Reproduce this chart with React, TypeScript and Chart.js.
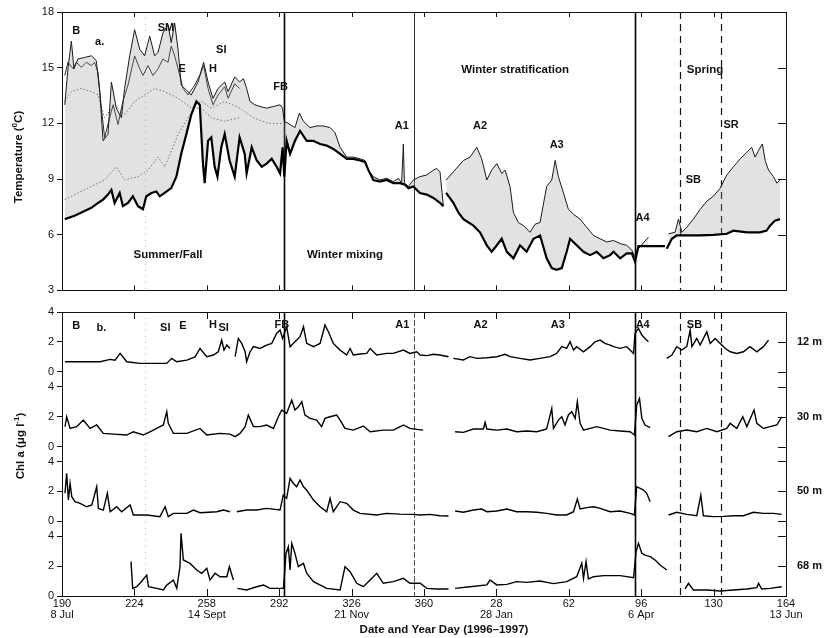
import React, { useEffect, useRef } from "react";
import { Chart, registerables } from "chart.js";

Chart.register(...registerables);

type P = [number, number | null];

// ---------- axes / categories ----------
const X_TICK_DAYS = [190, 224, 258, 292, 326, 360, 394, 428, 462, 496, 530];
const X_TICK_YEARDAY = ["190", "224", "258", "292", "326", "360", "28", "62", "96", "130", "164"];
const X_TICK_DATES = ["8 Jul", "", "14 Sept", "", "21 Nov", "", "28 Jan", "", "6 Apr", "", "13 Jun"];
const TEMP_TICKS = [3, 6, 9, 12, 15, 18];
const CHL_TICKS = [0, 2, 4];
const DEPTHS = ["12 m", "30 m", "50 m", "68 m"];
const DEPTH_OFFSETS = [15, 10, 5, 0];

// event lines (continuous year day, 1997 days + 366)
const EVENT_SOLID = [294.4, 459.1];
const EVENT_THIN = [355.3];
const EVENT_DASHED = [480.0, 499.4];
const EVENT_FAINT = [229.0];

// ---------- temperature (deg C) ----------
const T_UPPER: P[] = [
  [191.3, 13.0], [192.8, 14.94], [194.4, 16.43], [195.6, 14.94], [197.5, 15.47], [200.6, 15.55], [203.8, 15.64], [206.1, 15.38],
  [207.7, 13.71], [209.3, 11.06], [211.6, 11.42], [213.2, 14.23], [215.5, 12.82], [217.9, 12.3], [219.4, 13.88], [221.8, 15.64],
  [224.1, 17.05], [226.5, 15.99], [228.8, 15.64], [231.2, 16.7], [233.5, 15.64], [235.1, 15.82], [237.4, 16.87], [239.8, 17.31],
  [241.3, 16.35], [242.9, 17.4], [244.5, 15.99], [246.0, 14.06], [248.4, 13.79], [250.7, 13.53], [253.9, 14.23], [256.5, 15.29],
  [258.6, 14.23], [260.9, 13.35], [263.3, 13.88], [266.4, 14.23], [268.0, 13.71], [271.1, 14.5], [273.4, 14.23], [275.2, 14.41],
  [276.7, 13.88], [278.3, 13.18], [280.6, 13.0], [283.0, 12.91], [286.1, 12.82], [289.3, 12.91], [292.4, 13.0], [293.6, 12.82],
  [294.4, 12.12], [297.1, 11.94], [299.4, 11.77], [301.5, 12.56], [303.3, 12.12], [306.5, 11.77], [309.6, 11.86], [312.7, 11.86],
  [315.9, 11.77], [318.2, 11.5], [320.6, 10.71], [323.7, 10.18], [326.8, 10.18], [330.0, 10.09], [332.3, 10.0], [333.9, 9.48],
  [336.2, 9.13], [339.3, 8.95], [342.5, 9.04], [345.6, 8.86], [348.0, 9.04], [349.5, 8.78], [350.3, 10.89], [350.8, 8.78],
  [352.7, 8.6], [355.0, 8.95], [358.1, 9.13], [361.3, 9.22], [364.4, 9.48], [366.0, 9.57], [367.5, 9.39], [369.1, 7.54],
  [369.8, null], [370.4, 8.95], [373.8, 9.39], [378.5, 10.0], [381.6, 10.18], [384.8, 10.71], [387.1, 10.09], [389.5, 8.95],
  [391.8, 9.48], [394.2, 9.83], [396.5, 9.3], [398.1, 9.48], [400.4, 8.6], [402.0, 7.19], [404.3, 6.66], [406.7, 6.49],
  [409.8, 6.13], [412.2, 6.57], [414.5, 6.66], [417.6, 8.6], [420.0, 8.95], [421.6, 10.0], [423.1, 9.13], [425.5, 8.25],
  [427.8, 7.37], [430.2, 7.1], [433.3, 6.84], [436.4, 6.4], [439.6, 5.96], [442.7, 5.78], [445.8, 5.61], [449.0, 5.69],
  [452.1, 5.52], [455.2, 5.43], [457.6, 5.17], [459.1, 4.81], [460.7, 5.25], [463.1, 5.57], [465.4, 5.87], [466.0, null],
  [474.8, 6.05], [477.9, 6.13], [479.5, 6.84], [481.1, 6.13], [483.4, 6.4], [486.5, 6.84], [489.7, 7.37], [492.8, 7.81],
  [495.9, 8.07], [499.1, 8.51], [502.2, 9.22], [505.3, 9.66], [508.5, 10.09], [511.6, 10.45], [513.9, 10.71], [515.5, 10.18],
  [517.1, 10.54], [518.9, 10.89], [520.2, 10.0], [521.8, 9.48], [524.1, 9.13], [525.7, 8.78], [527.2, 8.95],
];

const T_LOWER: P[] = [
  [191.3, 6.84], [195.9, 7.02], [200.6, 7.28], [203.8, 7.45], [206.9, 7.71], [209.3, 7.89], [211.6, 8.16], [213.2, 8.42],
  [214.7, 7.71], [217.1, 8.25], [218.6, 7.54], [221.0, 7.71], [223.3, 8.07], [225.7, 7.54], [228.0, 7.37], [229.6, 8.07],
  [232.0, 8.25], [234.3, 8.33], [235.9, 8.07], [238.2, 8.25], [241.3, 8.51], [243.7, 9.13], [246.0, 10.36], [248.4, 11.42],
  [250.7, 12.47], [253.1, 13.18], [254.7, 13.0], [256.2, 9.83], [257.0, 8.78], [258.6, 11.06], [260.1, 11.24], [261.7, 9.66],
  [263.0, 9.13], [264.8, 10.71], [266.4, 11.42], [268.7, 10.0], [271.1, 9.13], [273.4, 11.24], [275.8, 10.36], [276.7, 9.3],
  [279.1, 10.71], [281.4, 10.01], [283.8, 9.66], [286.1, 9.83], [288.5, 10.09], [290.8, 9.66], [292.4, 9.3], [293.6, 10.71],
  [294.4, 9.13], [295.5, 11.06], [297.1, 10.36], [299.4, 11.06], [301.8, 11.59], [304.9, 11.06], [308.0, 11.06], [311.2, 10.89],
  [314.3, 10.8], [317.4, 10.62], [320.6, 10.36], [323.7, 10.09], [326.8, 10.09], [330.0, 10.0], [332.3, 9.92], [333.9, 9.48],
  [336.2, 8.95], [339.3, 8.86], [342.5, 8.95], [345.6, 8.78], [348.7, 8.78], [351.1, 8.69], [352.7, 8.51], [355.0, 8.6],
  [358.1, 8.25], [361.3, 8.16], [364.4, 7.98], [367.5, 7.72], [369.1, 7.54], [369.8, null], [370.4, 8.25], [373.8, 7.72],
  [376.2, 7.19], [378.5, 6.84], [383.2, 6.49], [386.3, 6.13], [389.5, 5.43], [391.8, 5.08], [394.2, 5.43], [396.5, 5.78],
  [398.9, 5.08], [402.0, 4.73], [405.1, 5.43], [408.2, 5.08], [411.4, 5.78], [414.5, 5.96], [417.6, 4.73], [420.0, 4.2],
  [422.3, 4.11], [424.7, 4.2], [427.0, 5.08], [428.6, 5.78], [431.7, 5.43], [434.9, 5.08], [438.0, 4.9], [441.1, 5.08],
  [444.3, 4.73], [447.4, 4.9], [449.0, 5.08], [452.1, 4.73], [455.2, 4.99], [457.6, 4.99], [459.1, 4.55], [460.7, 5.39],
  [473.2, 5.39], [473.6, null], [474.0, 5.25], [476.4, 5.78], [478.7, 5.96], [483.4, 5.96], [489.7, 5.96], [495.9, 5.99],
  [502.2, 6.05], [505.3, 6.22], [511.6, 6.13], [517.8, 6.13], [520.9, 6.22], [522.5, 6.49], [524.8, 6.75], [527.2, 6.84],
];

const T_MID_SOLID: P[] = [
  [191.3, 14.58], [192.8, 15.29], [195.2, 14.94], [196.7, 15.29], [199.1, 15.02], [201.4, 15.29], [203.8, 15.11], [205.3, 15.29],
  [206.9, 14.76], [208.5, 12.82], [210.0, 11.24], [212.4, 12.3], [214.0, 13.0], [216.3, 11.94], [218.6, 13.18], [221.0, 14.06],
  [224.1, 15.64], [226.5, 14.94], [228.0, 14.58], [230.4, 15.11], [232.7, 14.58], [235.1, 14.94], [237.4, 15.47], [239.8, 15.29],
  [241.3, 16.17], [242.9, 15.64], [244.5, 14.94], [246.8, 13.88], [249.2, 13.53], [252.3, 14.06], [254.7, 14.58], [256.5, 15.11],
  [258.6, 13.88], [260.9, 13.0], [263.3, 13.53], [266.4, 13.97], [268.0, 13.35], [271.1, 14.14], [273.4, 13.88],
];

const T_MID_DOT1: P[] = [
  [191.3, 13.18], [194.4, 13.71], [199.1, 13.88], [203.8, 13.71], [206.9, 13.53], [210.0, 12.3], [214.7, 13.0], [219.4, 12.47],
  [224.1, 13.18], [228.8, 13.53], [233.5, 13.88], [238.2, 13.71], [244.5, 13.35], [250.7, 12.82], [255.4, 13.18], [260.1, 12.82],
  [266.4, 13.18], [273.4, 12.82], [280.0, 12.3], [287.0, 12.0], [294.0, 12.0],
];

const T_MID_DOT2: P[] = [
  [191.3, 7.89], [197.5, 8.25], [203.8, 8.6], [210.0, 8.95], [215.5, 9.66], [219.4, 8.95], [225.7, 9.13], [230.4, 9.48],
  [235.1, 10.18], [238.2, 9.66], [242.1, 10.71], [244.5, 11.42], [249.2, 12.3], [252.3, 12.82], [255.4, 12.82], [260.1, 12.3],
  [266.4, 12.12], [273.4, 12.3],
];

// ---------- chlorophyll a (ug/l) ----------
const CHL_12M: P[] = [
  [191.4, 0.67], [200.0, 0.67], [207.9, 0.67], [212.6, 0.83], [214.9, 0.78], [217.3, 1.23], [220.4, 0.67], [226.6, 0.56],
  [232.9, 0.56], [239.2, 0.56], [241.5, 0.9], [243.9, 0.67], [248.6, 0.78], [252.5, 1.0], [254.8, 1.56], [258.0, 1.01],
  [261.1, 1.12], [263.4, 1.34], [265.0, 2.12], [266.1, 1.45], [267.4, 1.79], [268.9, 1.56], [270.0, null], [271.3, 1.01],
  [272.8, 2.23], [274.4, 1.9], [276.0, 1.34], [276.7, 0.67], [278.3, 1.34], [279.9, 1.68], [283.0, 1.56], [286.1, 1.79],
  [288.5, 1.9], [290.8, 2.57], [292.4, 2.79], [293.6, 2.23], [295.5, 3.01], [297.1, 1.68], [299.4, 2.01], [301.8, 2.35],
  [303.4, 3.01], [304.9, 1.9], [308.1, 1.68], [311.2, 1.9], [313.5, 3.13], [315.1, 2.68], [317.4, 1.9], [320.6, 1.45],
  [323.7, 1.12], [325.3, 1.56], [326.8, 1.12], [330.0, 1.19], [333.1, 1.23], [334.7, 1.56], [337.8, 1.12], [342.5, 1.23],
  [345.6, 1.23], [350.3, 1.45], [353.4, 1.23], [356.6, 1.34], [358.2, 1.12], [361.3, 1.08], [364.4, 1.17], [367.5, 1.12],
  [371.5, 1.01], [372.5, null], [373.8, 0.9], [378.5, 0.79], [381.6, 1.01], [384.8, 0.9], [389.5, 0.94], [394.2, 1.01],
  [398.1, 1.17], [400.4, 1.01], [405.1, 0.9], [409.8, 0.79], [414.5, 0.9], [419.2, 1.01], [422.3, 1.23], [424.7, 1.68],
  [427.0, 1.57], [428.6, 2.01], [430.2, 1.46], [431.7, 1.68], [434.9, 1.34], [438.0, 1.68], [440.3, 2.01], [442.7, 2.12],
  [445.0, 1.9], [447.4, 1.79], [449.0, 1.68], [452.1, 1.57], [455.2, 1.68], [458.4, 1.23], [459.1, 2.57], [460.7, 2.9],
  [462.3, 2.46], [463.8, 2.23], [465.4, 2.01], [466.5, null], [474.0, 0.9], [476.4, 1.12], [478.7, 1.68], [481.1, 1.46],
  [483.4, 1.68], [485.0, 2.79], [485.8, 1.68], [488.1, 2.23], [489.7, 1.79], [492.8, 2.68], [494.4, 1.9], [496.7, 2.23],
  [499.1, 1.9], [501.4, 1.57], [503.8, 1.34], [506.9, 1.23], [510.0, 1.34], [513.1, 1.68], [516.3, 1.34], [519.4, 1.68],
  [521.8, 2.12],
];

const CHL_30M: P[] = [
  [191.4, 1.33], [192.2, 1.99], [193.8, 1.21], [196.9, 1.33], [200.0, 1.77], [203.2, 1.21], [206.3, 1.44], [209.4, 0.88],
  [214.1, 0.83], [220.4, 0.77], [223.5, 0.99], [228.2, 0.77], [232.9, 1.1], [236.0, 1.33], [237.6, 1.44], [239.2, 2.33],
  [239.9, 1.55], [242.3, 0.88], [248.6, 0.88], [254.8, 1.21], [258.0, 0.77], [264.2, 0.88], [268.9, 0.83], [271.3, 0.66],
  [273.6, 0.88], [276.0, 1.33], [277.5, 2.1], [279.9, 1.33], [283.0, 1.33], [286.1, 1.44], [289.3, 1.21], [291.6, 1.99],
  [293.2, 2.44], [295.5, 2.22], [297.9, 3.11], [299.4, 2.44], [301.0, 2.66], [302.6, 3.0], [304.1, 2.1], [306.5, 1.88],
  [309.6, 1.77], [311.9, 1.33], [313.5, 1.88], [315.9, 1.99], [319.0, 2.1], [320.6, 1.77], [322.9, 1.21], [326.8, 1.1],
  [331.5, 1.37], [334.7, 0.99], [340.9, 1.1], [345.6, 1.1], [350.3, 1.44], [353.4, 1.21], [356.6, 1.15], [359.6, 1.1],
  [361.0, null], [374.6, 0.99], [378.5, 0.95], [383.2, 1.17], [387.9, 1.17], [388.7, 1.62], [389.5, 1.17], [394.2, 1.1],
  [398.9, 1.17], [403.5, 0.99], [408.2, 1.04], [413.0, 0.99], [417.6, 1.17], [420.0, 2.55], [420.8, 1.21], [423.1, 1.77],
  [424.7, 1.99], [426.2, 1.44], [427.8, 2.11], [429.4, 2.33], [431.0, 1.88], [432.0, 3.0], [433.3, 1.55], [434.9, 1.1],
  [438.0, 1.21], [441.1, 1.33], [444.3, 1.21], [447.4, 1.1], [452.1, 1.04], [456.8, 0.99], [458.8, 0.77], [459.9, 2.78],
  [461.2, 3.22], [462.3, 1.88], [463.8, 1.44], [466.2, 1.26], [467.0, null], [474.8, 0.66], [478.7, 0.99], [483.4, 1.1],
  [488.1, 0.99], [492.8, 1.21], [497.5, 0.99], [502.2, 1.21], [503.8, 1.55], [506.9, 1.21], [509.7, 1.99], [511.6, 1.33],
  [515.0, 2.44], [516.3, 1.55], [519.4, 1.21], [522.5, 1.33], [525.7, 1.44], [528.0, 1.99],
];

const CHL_50M: P[] = [
  [191.4, 1.87], [192.2, 3.2], [193.0, 1.42], [193.8, 2.53], [194.6, 1.64], [196.1, 1.31], [198.5, 1.2], [201.6, 0.97],
  [204.0, 1.09], [206.3, 2.31], [207.1, 0.86], [209.4, 0.75], [211.3, 1.87], [212.6, 0.64], [215.7, 0.97], [218.0, 0.64],
  [222.0, 1.09], [223.5, 0.42], [229.8, 0.42], [236.0, 0.31], [238.4, 0.97], [239.9, 0.31], [242.3, 0.53], [248.6, 0.53],
  [251.7, 0.75], [254.8, 0.57], [262.7, 0.64], [265.8, 0.75], [268.9, 0.64], [270.3, null], [272.1, 0.64], [276.7, 0.75],
  [281.4, 0.75], [286.1, 0.86], [292.4, 0.75], [293.9, 1.75], [295.5, 1.53], [297.1, 2.87], [298.7, 2.53], [300.2, 2.31],
  [301.8, 2.76], [303.4, 2.31], [304.9, 2.09], [308.1, 1.42], [311.2, 0.97], [314.3, 0.64], [315.9, 1.53], [317.4, 0.64],
  [320.6, 1.31], [323.7, 1.2], [326.8, 0.75], [330.0, 0.53], [337.8, 0.42], [342.5, 0.53], [348.7, 0.48], [355.0, 0.46],
  [358.2, 0.42], [362.8, 0.46], [367.5, 0.37], [371.5, 0.35], [372.5, null], [374.6, 0.69], [378.5, 0.6], [383.2, 0.75],
  [387.1, 0.82], [389.5, 0.64], [394.2, 0.69], [398.9, 0.82], [403.5, 0.64], [408.2, 0.64], [413.0, 0.6], [417.6, 0.53],
  [422.3, 0.42], [427.0, 0.42], [430.2, 0.64], [432.0, 1.49], [433.3, 0.82], [436.4, 0.91], [439.6, 0.97], [442.7, 0.86],
  [447.4, 0.64], [452.1, 0.69], [456.8, 0.53], [458.8, 0.42], [459.9, 2.31], [461.5, 2.2], [463.1, 2.09], [464.6, 1.87],
  [466.2, 1.31], [467.0, null], [474.8, 0.42], [478.7, 0.6], [483.4, 0.46], [488.1, 0.37], [490.0, 1.75], [491.2, 0.37],
  [495.9, 0.31], [500.6, 0.33], [505.3, 0.37], [510.0, 0.37], [514.7, 0.6], [519.4, 0.53], [524.1, 0.53], [528.0, 0.46],
];

const CHL_68M: P[] = [
  [222.4, 2.3], [223.2, 0.51], [225.1, 0.62], [226.6, 0.85], [229.8, 1.4], [230.6, 0.62], [234.5, 0.51], [237.6, 0.4],
  [239.2, 0.73], [242.3, 1.07], [243.9, 0.51], [245.4, 1.96], [245.9, 4.19], [247.0, 2.41], [250.1, 2.18], [253.3, 1.74],
  [255.6, 1.52], [258.0, 1.85], [259.5, 1.07], [261.9, 1.52], [264.2, 1.29], [267.4, 1.29], [268.6, 1.96], [270.5, 1.07],
  [271.4, null], [272.4, 0.51], [276.7, 0.4], [281.4, 0.62], [284.6, 0.73], [287.7, 0.51], [294.0, 0.51], [295.2, 2.85],
  [296.3, 3.3], [297.1, 1.74], [297.9, 3.52], [299.4, 2.85], [301.0, 1.96], [303.4, 2.18], [304.9, 1.52], [308.1, 0.96],
  [314.3, 0.51], [320.6, 0.4], [322.9, 1.96], [325.3, 1.63], [328.4, 0.85], [331.5, 0.62], [334.7, 1.07], [337.8, 1.52],
  [340.9, 0.85], [345.6, 0.96], [350.3, 1.18], [353.4, 0.85], [356.6, 0.85], [358.2, 0.85], [361.3, 0.51], [366.0, 0.47],
  [371.5, 0.47], [372.5, null], [374.6, 0.51], [381.6, 0.62], [389.5, 0.74], [391.0, 1.07], [394.2, 0.74], [398.9, 0.78],
  [403.5, 0.96], [408.2, 0.91], [414.5, 1.0], [420.8, 0.83], [427.0, 0.96], [431.7, 1.29], [434.1, 2.19], [434.9, 1.18],
  [436.1, 2.3], [437.2, 1.14], [439.6, 1.29], [444.3, 1.36], [447.4, 1.36], [452.1, 1.36], [458.4, 1.23], [459.6, 2.97],
  [460.7, 3.52], [462.3, 2.86], [463.8, 2.74], [466.2, 2.63], [468.5, 2.41], [470.9, 2.07], [474.0, 1.74], [475.0, null],
  [482.6, 0.47], [484.2, 0.85], [486.5, 0.4], [492.8, 0.4], [499.1, 0.33], [505.3, 0.4], [511.6, 0.47], [516.3, 0.56],
  [517.1, 0.85], [518.6, 0.47], [522.5, 0.51], [528.0, 0.62],
];

const CHL_SERIES = [CHL_12M, CHL_30M, CHL_50M, CHL_68M];

// ---------- presentation ----------
const FONT = "'Liberation Sans', Arial, Helvetica, sans-serif";
const X_MIN = 190;
const X_MAX = 530;

type Ann = { t: string; x: number; y: number; big?: boolean };
const TOP_ANN: Ann[] = [
  { t: "B", x: 196.7, y: 16.96 }, { t: "a.", x: 207.7, y: 16.4 }, { t: "SM", x: 238.8, y: 17.14 },
  { t: "SI", x: 264.8, y: 15.96 }, { t: "E", x: 246.4, y: 14.94 }, { t: "H", x: 260.9, y: 14.94 },
  { t: "FB", x: 292.7, y: 13.97 }, { t: "A1", x: 349.6, y: 11.86 }, { t: "A2", x: 386.3, y: 11.86 },
  { t: "A3", x: 422.3, y: 10.85 }, { t: "SR", x: 504.2, y: 11.91 }, { t: "SB", x: 486.5, y: 8.95 },
  { t: "A4", x: 462.6, y: 6.89 },
  { t: "Summer/Fall", x: 239.8, y: 4.94, big: true }, { t: "Winter mixing", x: 322.9, y: 4.94, big: true },
  { t: "Winter stratification", x: 402.8, y: 14.9, big: true }, { t: "Spring", x: 492.0, y: 14.9, big: true },
];
const BOT_ANN: Ann[] = [
  { t: "B", x: 196.7, y: 18.08 }, { t: "b.", x: 208.5, y: 17.91 }, { t: "SI", x: 238.5, y: 17.91 },
  { t: "E", x: 246.8, y: 18.08 }, { t: "H", x: 260.9, y: 18.13 }, { t: "SI", x: 265.9, y: 17.91 },
  { t: "FB", x: 293.2, y: 18.13 }, { t: "A1", x: 349.8, y: 18.13 }, { t: "A2", x: 386.6, y: 18.13 },
  { t: "A3", x: 422.8, y: 18.13 }, { t: "A4", x: 462.7, y: 18.13 }, { t: "SB", x: 487.0, y: 18.13 },
];

function toXY(arr: P[], offset = 0) {
  return arr.map(([d, v]) => ({ x: d, y: v === null ? null : v + offset }));
}

function drawRotated(ctx: CanvasRenderingContext2D, parts: { t: string; sup?: boolean }[], cx: number, cy: number, size: number) {
  ctx.save();
  ctx.translate(cx, cy);
  ctx.rotate(-Math.PI / 2);
  const fN = `bold ${size}px ${FONT}`;
  const fS = `bold ${Math.round(size * 0.72)}px ${FONT}`;
  let total = 0;
  for (const p of parts) {
    ctx.font = p.sup ? fS : fN;
    total += ctx.measureText(p.t).width;
  }
  let x = -total / 2;
  ctx.textBaseline = "middle";
  ctx.textAlign = "left";
  ctx.fillStyle = "#111";
  for (const p of parts) {
    ctx.font = p.sup ? fS : fN;
    ctx.fillText(p.t, x, p.sup ? -4 : 0);
    x += ctx.measureText(p.t).width;
  }
  ctx.restore();
}

function makeDecor(kind: "top" | "bottom") {
  return {
    id: "decor-" + kind,
    beforeDatasetsDraw(chart: any) {
      const { ctx, chartArea: a, scales } = chart;
      const xs = scales.x;
      ctx.save();
      const vline = (d: number, w: number, color: string, dash: number[]) => {
        const px = Math.round(xs.getPixelForValue(d)) + 0.5;
        ctx.beginPath();
        ctx.setLineDash(dash);
        ctx.lineWidth = w;
        ctx.strokeStyle = color;
        ctx.moveTo(px, a.top);
        ctx.lineTo(px, a.bottom);
        ctx.stroke();
      };
      EVENT_FAINT.forEach((d) => vline(d, 1, "#bbb", [1, 5]));
      EVENT_SOLID.forEach((d) => vline(d, 1.6, "#000", []));
      EVENT_THIN.forEach((d) => vline(d, 1, kind === "top" ? "#333" : "#555", kind === "top" ? [] : [6, 2]));
      EVENT_DASHED.forEach((d) => vline(d, 1.2, "#111", [7, 5]));
      ctx.restore();
    },
    afterDraw(chart: any) {
      const { ctx, chartArea: a, scales } = chart;
      const xs = scales.x;
      const ys = scales.y;
      ctx.save();
      ctx.setLineDash([]);
      ctx.strokeStyle = "#111";
      ctx.lineWidth = 1;
      ctx.strokeRect(Math.round(a.left) + 0.5, Math.round(a.top) + 0.5, Math.round(a.right - a.left), Math.round(a.bottom - a.top));
      // inward x ticks
      const xl = kind === "top" ? 5 : 7;
      ctx.beginPath();
      X_TICK_DAYS.forEach((d) => {
        const px = Math.round(xs.getPixelForValue(d)) + 0.5;
        ctx.moveTo(px, a.bottom);
        ctx.lineTo(px, a.bottom - xl);
        ctx.moveTo(px, a.top);
        ctx.lineTo(px, a.top + xl);
      });
      // inward right y ticks
      ys.ticks.forEach((t: any) => {
        const py = Math.round(ys.getPixelForValue(t.value)) + 0.5;
        ctx.moveTo(a.right, py);
        ctx.lineTo(a.right - 8, py);
      });
      ctx.stroke();

      // annotations
      ctx.fillStyle = "#111";
      ctx.textAlign = "center";
      ctx.textBaseline = "middle";
      const anns = kind === "top" ? TOP_ANN : BOT_ANN;
      anns.forEach((n) => {
        ctx.font = `bold ${n.big ? 11.5 : 11}px ${FONT}`;
        ctx.fillText(n.t, xs.getPixelForValue(n.x), ys.getPixelForValue(n.y));
      });

      if (kind === "top") {
        drawRotated(ctx, [{ t: "Temperature (" }, { t: "0", sup: true }, { t: "C)" }], 19, 157, 11.5);
      } else {
        drawRotated(ctx, [{ t: "Chl a (\u03bcg l" }, { t: "-1", sup: true }, { t: ")" }], 21, 146, 11.5);
        ctx.font = `bold 11px ${FONT}`;
        ctx.textAlign = "left";
        DEPTHS.forEach((lab, i) => {
          ctx.fillText(lab, a.right + 11, ys.getPixelForValue(DEPTH_OFFSETS[i] + 2));
        });
        ctx.textAlign = "center";
        ctx.font = `bold 11.5px ${FONT}`;
        ctx.fillText("Date and Year Day (1996\u20131997)", 444, a.bottom + 34);
      }
      ctx.restore();
    },
  };
}

const tickFont = { family: FONT, size: 11 };

function TopChart() {
  const ref = useRef<HTMLCanvasElement | null>(null);
  useEffect(() => {
    if (!ref.current) return;
    const line = (data: P[], color: string, width: number, dash: number[] = [], extra: any = {}) => ({
      data: toXY(data),
      borderColor: color,
      borderWidth: width,
      borderDash: dash,
      pointRadius: 0,
      tension: 0,
      spanGaps: false,
      fill: false,
      ...extra,
    });
    const chart = new Chart(ref.current, {
      type: "line",
      data: {
        datasets: [
          line(T_LOWER, "#000", 2.2),
          line(T_UPPER, "#1a1a1a", 1, [], { fill: "-1", backgroundColor: "rgba(150,150,150,0.28)" }),
          line(T_MID_SOLID, "#2a2a2a", 1),
          line(T_MID_DOT1, "#666", 1, [1.5, 2]),
          line(T_MID_DOT2, "#666", 1, [1.5, 2]),
        ] as any,
      },
      options: {
        responsive: false,
        animation: false,
        events: [],
        layout: { padding: { top: 12, right: 42, bottom: 4, left: 0 } },
        plugins: { legend: { display: false }, tooltip: { enabled: false } },
        scales: {
          x: { type: "linear", min: X_MIN, max: X_MAX, display: false },
          y: {
            min: 3,
            max: 18,
            afterBuildTicks: (s: any) => {
              s.ticks = TEMP_TICKS.map((v) => ({ value: v }));
            },
            afterFit: (s: any) => {
              s.width = 62;
            },
            ticks: { font: tickFont, color: "#111", padding: 3 },
            grid: { drawOnChartArea: false, drawTicks: true, tickLength: 5, color: "#111" },
            border: { display: false },
          },
        },
      } as any,
      plugins: [makeDecor("top")],
    });
    return () => chart.destroy();
  }, []);
  return <canvas ref={ref} width={828} height={300} style={{ position: "absolute", left: 0, top: 0 }} />;
}

function BottomChart() {
  const ref = useRef<HTMLCanvasElement | null>(null);
  useEffect(() => {
    if (!ref.current) return;
    const chart = new Chart(ref.current, {
      type: "line",
      data: {
        datasets: CHL_SERIES.map((s, i) => ({
          data: toXY(s, DEPTH_OFFSETS[i]),
          borderColor: "#000",
          borderWidth: 1.4,
          pointRadius: 0,
          tension: 0,
          spanGaps: false,
          fill: false,
        })) as any,
      },
      options: {
        responsive: false,
        animation: false,
        events: [],
        layout: { padding: { top: 12, right: 42, bottom: 0, left: 0 } },
        plugins: { legend: { display: false }, tooltip: { enabled: false } },
        scales: {
          x: {
            type: "linear",
            min: X_MIN,
            max: X_MAX,
            afterBuildTicks: (s: any) => {
              s.ticks = X_TICK_DAYS.map((v) => ({ value: v }));
            },
            afterFit: (s: any) => {
              s.height = 42;
            },
            ticks: {
              font: { family: FONT, size: 11, lineHeight: 0.95 },
              color: "#111",
              padding: 3,
              autoSkip: false,
              maxRotation: 0,
              minRotation: 0,
              callback: (v: any) => {
                const i = X_TICK_DAYS.indexOf(Number(v));
                if (i < 0) return "";
                return X_TICK_DATES[i] ? [X_TICK_YEARDAY[i], X_TICK_DATES[i]] : X_TICK_YEARDAY[i];
              },
            },
            grid: { display: true, drawOnChartArea: false, drawTicks: false },
            border: { display: false },
          },
          y: {
            min: 0,
            max: 19,
            afterBuildTicks: (s: any) => {
              const ticks: any[] = [];
              DEPTH_OFFSETS.slice().reverse().forEach((o) => CHL_TICKS.forEach((c) => ticks.push({ value: o + c })));
              s.ticks = ticks;
            },
            afterFit: (s: any) => {
              s.width = 62;
            },
            ticks: {
              font: tickFont,
              color: "#111",
              padding: 3,
              autoSkip: false,
              callback: (v: any) => String(Number(v) - 5 * Math.floor(Number(v) / 5)),
            },
            grid: { drawOnChartArea: false, drawTicks: true, tickLength: 5, color: "#111" },
            border: { display: false },
          },
        },
      } as any,
      plugins: [makeDecor("bottom")],
    });
    return () => chart.destroy();
  }, []);
  return <canvas ref={ref} width={828} height={338} style={{ position: "absolute", left: 0, top: 300 }} />;
}

export default function App() {
  return (
    <div style={{ position: "absolute", left: 0, top: 0, width: 828, height: 638, background: "#fff", overflow: "hidden" }}>
      <TopChart />
      <BottomChart />
    </div>
  );
}
